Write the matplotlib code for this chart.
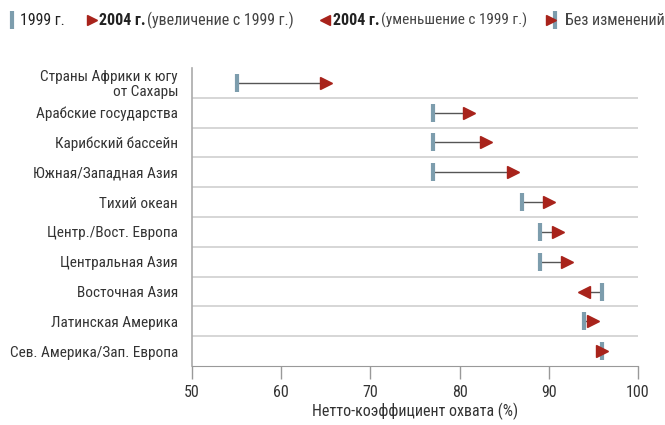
import matplotlib
matplotlib.use("Agg")
import matplotlib.pyplot as plt
from matplotlib import font_manager as fm

names = {f.name for f in fm.fontManager.ttflist}
fam = [n for n in ["Liberation Sans Narrow", "Roboto Condensed", "Roboto", "DejaVu Sans"] if n in names]
plt.rcParams['font.family'] = fam

regions = ["Страны Африки к югу\nот Сахары", "Арабские государства", "Карибский бассейн",
           "Южная/Западная Азия", "Тихий океан", "Центр./Вост. Европа", "Центральная Азия",
           "Восточная Азия", "Латинская Америка", "Сев. Америка/Зап. Европа"]
v1999 = [55, 77, 77, 77, 87, 89, 89, 96, 94, 96]
v2004 = [65, 81, 83, 86, 90, 91, 92, 94, 95, 96]
xticks = [50, 60, 70, 80, 90, 100]
xlabel = "Нетто-коэффициент охвата (%)"

BLUE = "#7d9dad"
RED = "#a8231b"
TXT = "#333333"
GRID = "#cfcfcf"

W, H = 665, 425
fig = plt.figure(figsize=(W/100, H/100), dpi=100)
ax = fig.add_axes([192/W, 1-366/H, (638-192)/W, (366-68)/H])

n = len(regions)
ys = list(range(n))
for y, a, b in zip(ys, v1999, v2004):
    ax.plot([a, b], [y, y], color="#555555", lw=1.0, zorder=2)
    if b > a:
        m = ">"
    elif b < a:
        m = "<"
    else:
        m = ">"
    ax.plot([a], [y], marker="|", ms=13.5, mew=3, color=BLUE, zorder=3, ls="none")
    ax.plot([b], [y], marker=m, ms=9.3, color=RED, mec=RED, zorder=4, ls="none")

for k in range(n - 1):
    ax.axhline(k + 0.5, color=GRID, lw=1.2, zorder=1)

ax.set_xlim(50, 100)
ax.set_ylim(n - 0.5, -0.5)
ax.set_yticks(ys)
ax.set_yticklabels(regions, fontsize=11, color=TXT, linespacing=1.05)
ax.tick_params(axis="y", length=0, pad=10)
ax.set_xticks(xticks)
ax.set_xticklabels([str(t) for t in xticks], fontsize=11.5, color=TXT)
ax.tick_params(axis="x", length=9, width=1, color="#999999", pad=5)
ax.set_xlabel(xlabel, fontsize=11.5, color=TXT, labelpad=2)
for s in ["top", "right"]:
    ax.spines[s].set_visible(False)
ax.spines["left"].set_color("#aaaaaa")
ax.spines["bottom"].set_color("#999999")
ax.spines["left"].set_linewidth(1.2)

# legend overlay
lax = fig.add_axes([0, 0, 1, 1], facecolor="none")
lax.set_xlim(0, W)
lax.set_ylim(H, 0)
lax.axis("off")
ly = 20
lax.plot([12], [ly], marker="|", ms=13, mew=3, color=BLUE, ls="none")
lax.text(20, ly, "1999 г.", fontsize=11.5, color="#222222", va="center")
lax.plot([92], [ly], marker=">", ms=7.5, color=RED, ls="none")
lax.text(99, ly, "2004 г.", fontsize=11.5, color="#222222", weight="bold", va="center")
lax.text(147, ly, "(увеличение с 1999 г.)", fontsize=11.5, color="#444444", va="center")
lax.plot([325], [ly], marker="<", ms=7.5, color=RED, ls="none")
lax.text(333, ly, "2004 г.", fontsize=11.5, color="#222222", weight="bold", va="center")
lax.text(381, ly, "(уменьшение с 1999 г.)", fontsize=11, color="#444444", va="center")
lax.plot([555], [ly], marker="|", ms=13, mew=3, color=BLUE, ls="none")
lax.plot([551], [ly], marker=">", ms=7.5, color=RED, ls="none")
lax.text(565, ly, "Без изменений", fontsize=11.5, color="#444444", va="center")

fig.savefig("out.png", dpi=100)
